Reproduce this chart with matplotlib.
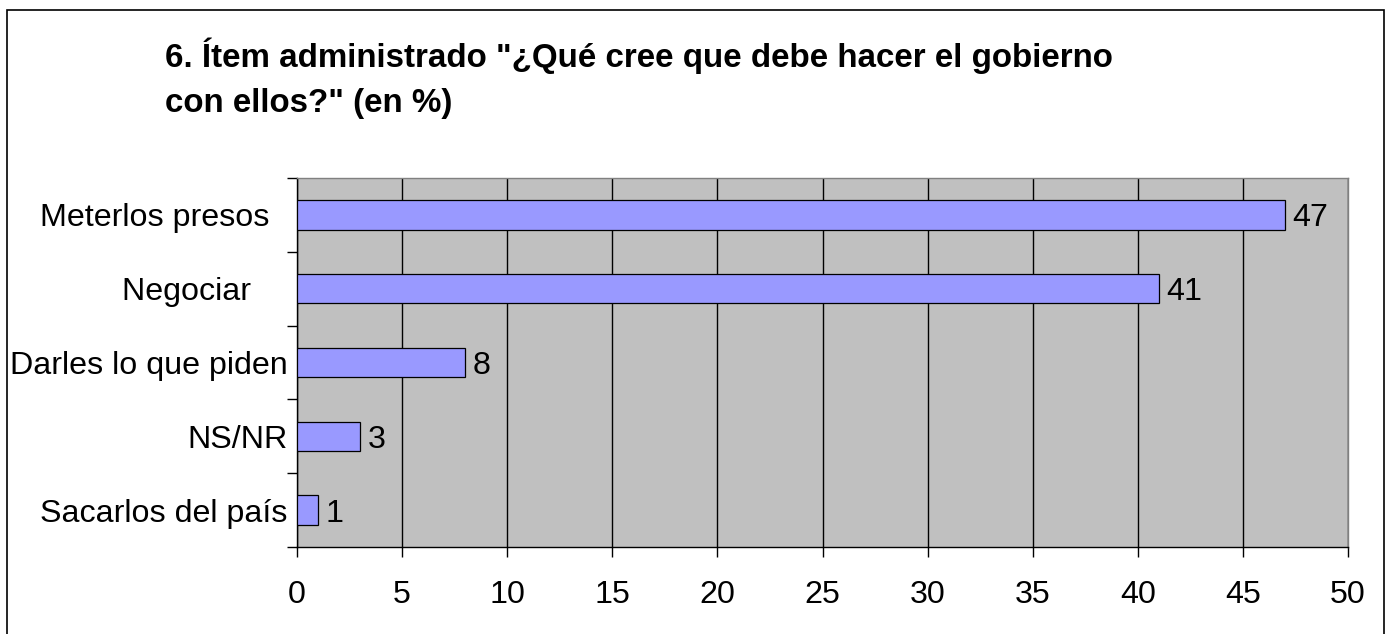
import matplotlib
matplotlib.use("Agg")
import matplotlib.pyplot as plt
from matplotlib.patches import Rectangle

# data, top to bottom as in the chart
categories = ["Meterlos presos  ", "Negociar    ", "Darles lo que piden", "NS/NR", "Sacarlos del país"]
values = [47, 41, 8, 3, 1]
xticks = [0, 5, 10, 15, 20, 25, 30, 35, 40, 45, 50]

plt.rcParams['font.family'] = ['Liberation Sans', 'DejaVu Sans']

W, H = 1388, 634
fig = plt.figure(figsize=(W / 100, H / 100), dpi=100)
fig.patch.set_facecolor("white")

# outer frame of the chart object
fig.patches.append(Rectangle((7 / W, -0.05), 1377 / W, 1.05 - 10 / H,
                             transform=fig.transFigure, fill=False,
                             edgecolor="black", linewidth=1.2))

ax = fig.add_axes([297 / W, 1 - 547 / H, 1051 / W, 369 / H])
ax.set_facecolor("#C0C0C0")

n = len(categories)
pos = [n - 1 - i for i in range(n)]
ax.barh(pos, values, height=0.4, color="#9999FF", edgecolor="black",
        linewidth=0.9, zorder=3)
for p, v in zip(pos, values):
    ax.text(v + 0.35, p, str(v), va="center_baseline", ha="left", fontsize=23.2, zorder=4)

ax.set_xlim(0, 50)
ax.set_ylim(-0.5, n - 0.5)
ax.set_xticks(xticks)
ax.set_xticklabels([str(t) for t in xticks])
ax.tick_params(axis="x", direction="out", length=7, width=1, labelsize=23.2, pad=17)
ax.grid(axis="x", color="black", linewidth=1, zorder=1)

# category labels on minor ticks, boundary marks on major ticks
ax.set_yticks([i - 0.5 for i in range(n + 1)])
ax.set_yticklabels([])
ax.set_yticks(pos, minor=True)
ax.set_yticklabels(categories, minor=True)
for lab in ax.get_yticklabels(minor=True):
    lab.set_verticalalignment("center_baseline")
ax.tick_params(axis="y", which="major", direction="out", length=7, width=1)
ax.tick_params(axis="y", which="minor", length=0, labelsize=23.2, pad=7)

ax.spines["left"].set_color("black")
ax.spines["bottom"].set_color("black")
ax.spines["top"].set_color("#808080")
ax.spines["right"].set_color("#808080")
for s in ax.spines.values():
    s.set_linewidth(1)

fig.text(165 / W, 1 - 38 / H,
         "6. Ítem administrado \"¿Qué cree que debe hacer el gobierno\ncon ellos?\" (en %)",
         fontsize=23.9, fontweight="bold", ha="left", va="top", linespacing=1.55)

fig.savefig("out.png", dpi=100)
